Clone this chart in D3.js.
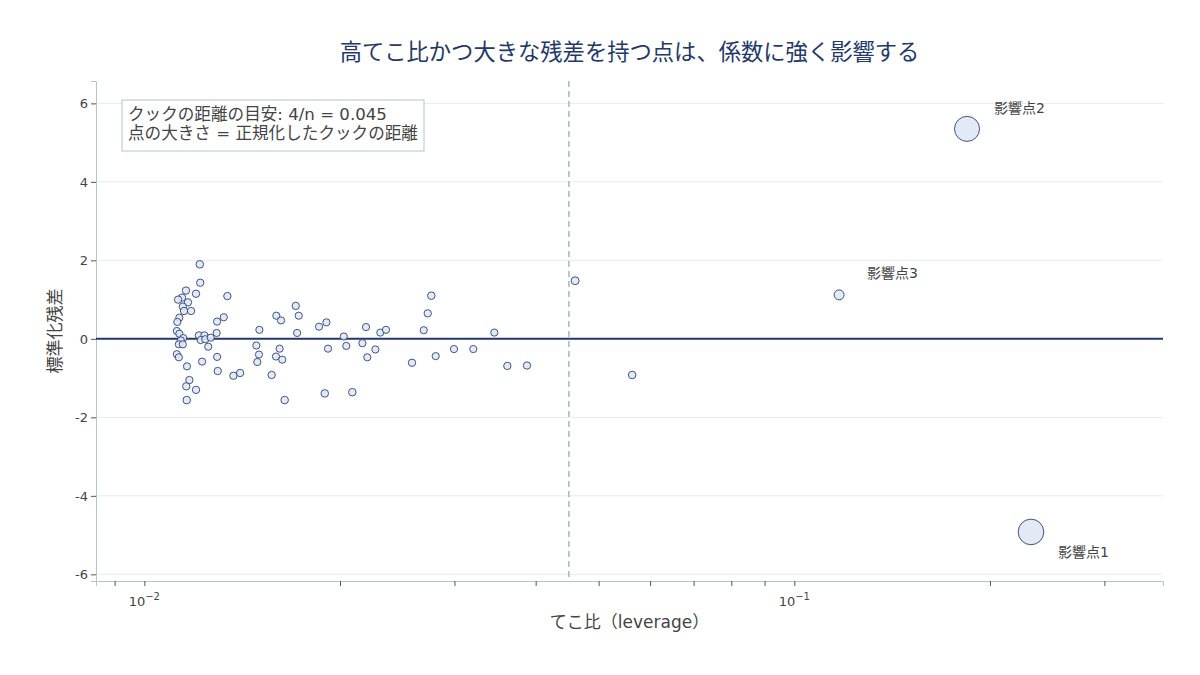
<meta charset="utf-8">
<script src="https://cdn.jsdelivr.net/npm/d3@7"></script>

<style>
  body {
    margin: 0;
    background-color: #fff;
  }
  text {
    font-family: "DejaVu Sans", "Noto Sans CJK JP", sans-serif;
  }
</style>

<div id="chart"></div>

<script>
// data
var leverage = [
  0.01217, 0.01219, 0.01159, 0.01201, 0.01143, 0.01127, 0.01167, 0.01342, 0.01146, 0.01151,
  0.01180, 0.01132, 0.01124, 0.01325, 0.01294, 0.01122, 0.01132, 0.01292, 0.01213, 0.01237,
  0.01148, 0.01138, 0.01221, 0.01241, 0.01265, 0.01130, 0.01146, 0.01254, 0.01122, 0.01130,
  0.01294, 0.01227, 0.01163, 0.01297, 0.01371, 0.01404, 0.01173, 0.01160, 0.01201, 0.01162,
  0.01503, 0.01487, 0.01501, 0.01492, 0.01570, 0.01596, 0.01623, 0.01615, 0.01594, 0.01630,
  0.01644, 0.01710, 0.01728, 0.01718, 0.01857, 0.01906, 0.01917, 0.01895, 0.02027, 0.02045,
  0.02089, 0.02165, 0.02193, 0.02203, 0.02267, 0.02307, 0.02354, 0.02581, 0.02691, 0.02729,
  0.02764, 0.02807, 0.02995, 0.03207, 0.03455, 0.03618, 0.03879, 0.04600, 0.05630,
  0.1172, 0.1844, 0.2313
];
var stdResid = [
  1.90, 1.43, 1.23, 1.15, 1.05, 1.00, 0.93, 1.09, 0.82, 0.71,
  0.71, 0.54, 0.43, 0.55, 0.44, 0.20, 0.13, 0.15, 0.09, 0.09,
  0.02, -0.04, -0.03, -0.01, 0.03, -0.14, -0.14, -0.20, -0.39, -0.47,
  -0.46, -0.58, -0.70, -0.82, -0.94, -0.87, -1.05, -1.21, -1.30, -1.56,
  0.23, -0.17, -0.40, -0.59, -0.92, 0.59, 0.47, -0.25, -0.45, -0.53,
  -1.56, 0.84, 0.59, 0.15, 0.31, 0.42, -0.25, -1.39, 0.06, -0.18,
  -1.36, -0.11, 0.30, -0.47, -0.27, 0.16, 0.23, -0.61, 0.22, 0.65,
  1.10, -0.44, -0.26, -0.26, 0.16, -0.69, -0.68, 1.48, -0.92,
  1.12, 5.35, -4.92
];
// normalised Cook's distance (0..1), used for the marker size
var cookNorm = [
  0.02, 0.01, 0.01, 0.01, 0.01, 0.01, 0.01, 0.01, 0.01, 0.01,
  0.01, 0.00, 0.00, 0.00, 0.00, 0.00, 0.00, 0.00, 0.00, 0.00,
  0.00, 0.00, 0.00, 0.00, 0.00, 0.00, 0.00, 0.00, 0.00, 0.00,
  0.00, 0.00, 0.00, 0.01, 0.01, 0.01, 0.01, 0.01, 0.01, 0.02,
  0.00, 0.00, 0.00, 0.00, 0.01, 0.00, 0.00, 0.00, 0.00, 0.00,
  0.02, 0.01, 0.00, 0.00, 0.00, 0.00, 0.00, 0.02, 0.00, 0.00,
  0.02, 0.00, 0.00, 0.00, 0.00, 0.00, 0.00, 0.01, 0.00, 0.01,
  0.02, 0.00, 0.00, 0.00, 0.00, 0.01, 0.01, 0.04, 0.02,
  0.15, 0.97, 1.00
];
var pointLabels = { 79: "影響点3", 80: "影響点2", 81: "影響点1" };

var cookThreshold = 0.045;
var yTicks = [-6, -4, -2, 0, 2, 4, 6];
var xMajorTicks = [0.01, 0.1];
var xMinorTicks = [0.009, 0.02, 0.03, 0.04, 0.05, 0.06, 0.07, 0.08, 0.09, 0.2, 0.3];

var titleText = "高てこ比かつ大きな残差を持つ点は、係数に強く影響する";
var xTitle = "てこ比（leverage）";
var yTitle = "標準化残差";
var noteLines = ["クックの距離の目安: 4/n = 0.045", "点の大きさ = 正規化したクックの距離"];

// label offsets (px) relative to the marker
var labelOffset = { 79: [28, -17], 80: [27, -16], 81: [27, 25] };

var W = 1200, H = 675;
var margin = {top: 81, right: 37, bottom: 94, left: 96},
    width = W - margin.left - margin.right,
    height = H - margin.top - margin.bottom;

var axisColor = "#b7c1d2";
var tickColor = "#555";
var textColor = "#444";
var navy = "#23396a";

var svg = d3.select("#chart").append("svg")
    .attr("width", W)
    .attr("height", H);

var g = svg.append("g")
    .attr("transform", "translate(" + margin.left + "," + margin.top + ")");

var x = d3.scaleLog()
    .domain([0.008426, 0.3692])
    .range([0, width]);

var y = d3.scaleLinear()
    .domain([-6.17, 6.57])
    .range([height, 0]);

var rScale = d3.scaleLinear().domain([0, 1]).range([3.6, 12.8]);

// gridlines
g.append("g")
  .selectAll("line")
  .data(yTicks)
  .enter()
  .append("line")
    .attr("x1", 0)
    .attr("x2", width)
    .attr("y1", function(d) { return y(d); })
    .attr("y2", function(d) { return y(d); })
    .attr("stroke", "#e7eaf1")
    .attr("stroke-width", 1);

// y axis
var yAxis = g.append("g")
  .call(d3.axisLeft(y).tickValues(yTicks).tickSize(5).tickPadding(3).tickFormat(function(d) { return String(d); }));
yAxis.select(".domain").attr("stroke", axisColor);
yAxis.selectAll(".tick line").attr("stroke", tickColor);
yAxis.selectAll("text")
  .attr("font-size", 13)
  .attr("fill", textColor)
  .style("font-family", "'DejaVu Sans', sans-serif");

// x axis
var xAxis = g.append("g")
  .attr("transform", "translate(0," + height + ")")
  .call(d3.axisBottom(x).tickValues(xMajorTicks.concat(xMinorTicks)).tickSize(5).tickFormat(""));
xAxis.select(".domain").attr("stroke", axisColor);
xAxis.selectAll(".tick line").attr("stroke", tickColor);

// 10^n labels
var xLab = g.append("g").selectAll("text")
  .data(xMajorTicks)
  .enter()
  .append("text")
    .attr("x", function(d) { return x(d); })
    .attr("y", height + 25)
    .attr("text-anchor", "middle")
    .attr("font-size", 13)
    .attr("fill", textColor);
xLab.append("tspan").text("10");
xLab.append("tspan")
    .attr("dy", -6)
    .attr("font-size", 10)
    .text(function(d) { return "\u2212" + Math.round(-Math.log10(d)); });

// threshold line
g.append("line")
  .attr("x1", x(cookThreshold))
  .attr("x2", x(cookThreshold))
  .attr("y1", 0)
  .attr("y2", height)
  .attr("stroke", "#a9b3c8")
  .attr("stroke-width", 1.5)
  .attr("stroke-dasharray", "6,4");

// zero line
g.append("line")
  .attr("x1", 0)
  .attr("x2", width)
  .attr("y1", y(0))
  .attr("y2", y(0))
  .attr("stroke", navy)
  .attr("stroke-width", 2);

// points
var pts = leverage.map(function(d, i) {
  return {lev: d, res: stdResid[i], cook: cookNorm[i], idx: i};
});

g.selectAll("circle.pt")
  .data(pts)
  .enter()
  .append("circle")
    .attr("class", "pt")
    .attr("cx", function(d) { return x(d.lev); })
    .attr("cy", function(d) { return y(d.res); })
    .attr("r", function(d) { return rScale(d.cook); })
    .attr("fill", "#dfe8f6")
    .attr("stroke", "#2d4373")
    .attr("stroke-width", 1)
    .attr("opacity", 0.9);

// labels for influential points
g.selectAll("text.lbl")
  .data(pts.filter(function(d) { return pointLabels[d.idx]; }))
  .enter()
  .append("text")
    .attr("class", "lbl")
    .attr("x", function(d) { return x(d.lev) + labelOffset[d.idx][0]; })
    .attr("y", function(d) { return y(d.res) + labelOffset[d.idx][1]; })
    .attr("font-size", 14)
    .attr("fill", textColor)
    .text(function(d) { return pointLabels[d.idx]; });

// note box
var note = g.append("g").attr("transform", "translate(26,19)");
note.append("rect")
  .attr("width", 302)
  .attr("height", 51)
  .attr("fill", "#fff")
  .attr("stroke", axisColor)
  .attr("stroke-width", 1);
note.selectAll("text")
  .data(noteLines)
  .enter()
  .append("text")
    .attr("x", 6)
    .attr("y", function(d, i) { return 20 + i * 19; })
    .attr("font-size", 16.6)
    .attr("fill", textColor)
    .text(function(d) { return d; });

// titles
svg.append("text")
  .attr("x", margin.left + width / 2)
  .attr("y", 60)
  .attr("text-anchor", "middle")
  .attr("font-size", 22.3)
  .attr("fill", navy)
  .text(titleText);

svg.append("text")
  .attr("x", margin.left + width / 2)
  .attr("y", 628)
  .attr("text-anchor", "middle")
  .attr("font-size", 17)
  .attr("fill", textColor)
  .text(xTitle);

svg.append("text")
  .attr("transform", "translate(61," + (margin.top + height / 2) + ")rotate(-90)")
  .attr("text-anchor", "middle")
  .attr("font-size", 17)
  .attr("fill", textColor)
  .text(yTitle);
</script>
